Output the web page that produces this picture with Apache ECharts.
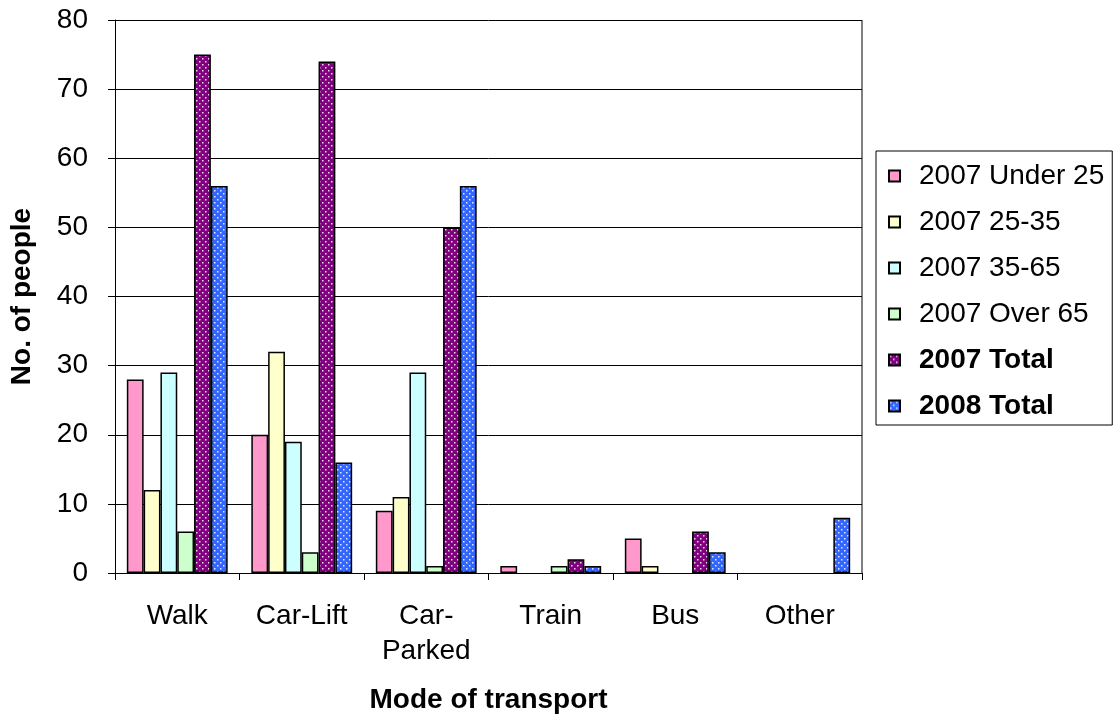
<!DOCTYPE html>
<html>
<head>
<meta charset="utf-8">
<script src="https://cdn.jsdelivr.net/npm/echarts@6/dist/echarts.min.js"></script>
<style>
  html, body { margin: 0; padding: 0; background: #fff; }
  #chart { width: 1117px; height: 716px; }
</style>
</head>
<body>
<div id="chart"></div>
<script>
const categories = ['Walk', 'Car-Lift', 'Car-\nParked', 'Train', 'Bus', 'Other'];
const seriesNames = ['2007 Under 25', '2007 25-35', '2007 35-65', '2007 Over 65', '2007 Total', '2008 Total'];
const under25 = [28, 20, 9, 1, 5, 0];
const age25to35 = [12, 32, 11, 0, 1, 0];
const age35to65 = [29, 19, 29, 0, 0, 0];
const over65 = [6, 3, 1, 1, 0, 0];
const total2007 = [75, 74, 50, 2, 6, 0];
const total2008 = [56, 16, 56, 1, 3, 8];

// dotted fill like the old office patterns
function dots(base) {
  const c = document.createElement('canvas');
  c.width = 6; c.height = 6;
  const ctx = c.getContext('2d');
  ctx.fillStyle = base;
  ctx.fillRect(0, 0, 6, 6);
  ctx.fillStyle = 'rgba(255,255,255,0.85)';
  ctx.fillRect(1, 1, 1.5, 1.5);
  ctx.fillRect(4, 4, 1.5, 1.5);
  return { image: c, repeat: 'repeat' };
}

const fills = ['#FF99CC', '#FFFFCC', '#CCFFFF', '#CCFFCC', dots('#800080'), dots('#3366FF')];
const values = [under25, age25to35, age35to65, over65, total2007, total2008];
const font = 'Liberation Sans, Arial, sans-serif';

const chart = echarts.init(document.getElementById('chart'));

const option = {
  animation: false,
  grid: { left: 115, right: 255, top: 20, bottom: 143, outerBoundsMode: 'none' },
  legend: {
    orient: 'vertical',
    left: 876,
    top: 151,
    itemWidth: 11,
    itemHeight: 11,
    itemGap: 18,
    padding: [11, 8, 5, 12],
    borderColor: '#000',
    borderWidth: 1,
    icon: 'rect',
    textStyle: { fontFamily: font, fontSize: 28, lineHeight: 28, color: '#000', padding: [0, 0, 0, 14] },
    data: seriesNames.map((n, i) => ({
      name: n,
      textStyle: { fontWeight: i >= 4 ? 'bold' : 'normal' }
    }))
  },
  xAxis: {
    type: 'category',
    data: categories,
    name: 'Mode of transport',
    nameLocation: 'middle',
    nameGap: 113,
    nameTextStyle: { fontFamily: font, fontSize: 28, fontWeight: 'bold', color: '#000' },
    axisLine: { lineStyle: { color: '#000', width: 1 } },
    axisTick: { show: true, length: 7, lineStyle: { color: '#000' } },
    axisLabel: { fontFamily: font, fontSize: 28, color: '#000', margin: 26, lineHeight: 35 }
  },
  yAxis: {
    type: 'value',
    min: 0,
    max: 80,
    interval: 10,
    name: 'No. of people',
    nameLocation: 'middle',
    nameGap: 79,
    nameTextStyle: { fontFamily: font, fontSize: 28, fontWeight: 'bold', color: '#000' },
    axisLine: { show: true, lineStyle: { color: '#000', width: 1 } },
    axisTick: { show: true, length: 7, lineStyle: { color: '#000' } },
    axisLabel: { fontFamily: font, fontSize: 28, color: '#000', margin: 27 },
    splitLine: { lineStyle: { color: '#000', width: 1 } }
  },
  series: seriesNames.map((n, i) => ({
    name: n,
    type: 'bar',
    data: values[i].map(v => v === 0 ? { value: v, itemStyle: { borderWidth: 0 } } : v),
    barGap: '0%',
    barCategoryGap: '19%',
    itemStyle: { color: fills[i], borderColor: '#000', borderWidth: 1.5 }
  }))
};

chart.setOption(option);

// right border of the plot area
chart.setOption({
  graphic: [{
    type: 'line',
    shape: { x1: 862, y1: 20, x2: 862, y2: 573 },
    style: { stroke: '#000', lineWidth: 1 }
  }]
});

window.addEventListener('resize', () => chart.resize());
</script>
</body>
</html>
